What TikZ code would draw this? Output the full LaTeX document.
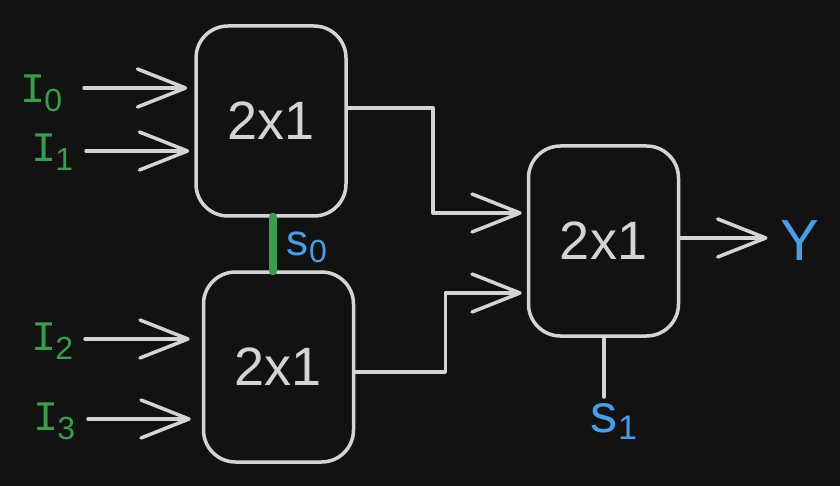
\documentclass[tikz,border=0pt]{standalone}
\usepackage{fontspec}
\setmainfont{Liberation Sans}
\newfontfamily\monof{Liberation Mono}
\usetikzlibrary{arrows.meta}
\definecolor{bg}{RGB}{18,18,18}
\definecolor{ln}{RGB}{212,212,212}
\definecolor{grn}{RGB}{56,158,76}
\definecolor{blu}{RGB}{74,158,232}
\newcommand{\ilab}[1]{{\monof\fontsize{42}{42}\selectfont I}\kern-1pt{\fontsize{32}{32}\selectfont\raisebox{-9pt}{#1}}}
\newcommand{\slab}[3]{{\fontsize{#1}{#1}\selectfont s}\kern1pt{\fontsize{#2}{#2}\selectfont\raisebox{-7pt}{#3}}}
\begin{document}
\begin{tikzpicture}[x=1pt,y=-1pt,
  mux/.style={draw=ln,line width=3.5pt,rounded corners=32pt,minimum width=150pt,minimum height=190pt,inner sep=0pt,text=ln,font=\fontsize{54}{54}\selectfont},
  arr/.style={draw=ln,line width=3.5pt,line cap=round,line join=round,-{Straight Barb[length=48pt,width=38pt,line cap=round,line join=round]}},
  wire/.style={draw=ln,line width=3.5pt,line cap=round,line join=round},
  inl/.style={text=grn,inner sep=0pt,anchor=base west},
  outl/.style={text=blu,inner sep=0pt}]
\fill[bg] (0,0) rectangle (840,486);
\useasboundingbox (0,0) rectangle (840,486);
% boxes
\node[mux] (A) at (271,121) {2x1};
\node[mux] (B) at (278.5,367) {2x1};
\node[mux] (C) at (603.5,241) {2x1};
% input labels
\node[inl] (i0) at (20,103) {\ilab{0}};
\node[inl] (i1) at (31,162) {\ilab{1}};
\node[inl] (i2) at (31,350) {\ilab{2}};
\node[inl] (i3) at (33,430) {\ilab{3}};
\coordinate (a0) at (84,88);
\coordinate (a1) at (86,151);
\coordinate (a2) at (85,339);
\coordinate (a3) at (88,419);
\draw[arr,shorten >=7pt] (a0) -- (A.west |- a0);
\draw[arr,shorten >=5pt] (a1) -- (A.west |- a1);
\draw[arr,shorten >=12pt] (a2) -- (B.west |- a2);
\draw[arr,shorten >=11pt] (a3) -- (B.west |- a3);
% between stages
\draw[arr,shorten >=5pt] ([yshift=13pt]A.east) -- ++(85,0) |- ([yshift=28pt]C.west);
\draw[arr,shorten >=5pt] ([yshift=-5pt]B.east) -- ++(90,0) |- ([yshift=-52pt]C.west);
% output
\node[outl,font=\fontsize{58}{58}\selectfont] (Y) at (800,241) {Y};
\draw[arr,shorten >=13pt] ([yshift=3pt]C.east) -- (Y.west |- 0,238);
% select lines
\coordinate (s0x) at (273,0);
\draw[grn,line width=8pt,line cap=round] ([yshift=1pt]A.south -| s0x) -- ([yshift=-1pt]B.north -| s0x);
\node[outl,anchor=base west] (s0) at (286,255) {\slab{44}{32}{0}};
\coordinate (s1e) at (604,397);
\draw[wire] (C.south -| s1e) -- (s1e);
\node[outl,anchor=base west] (s1) at (590,432) {\slab{54}{34}{1}};
\end{tikzpicture}
\end{document}
